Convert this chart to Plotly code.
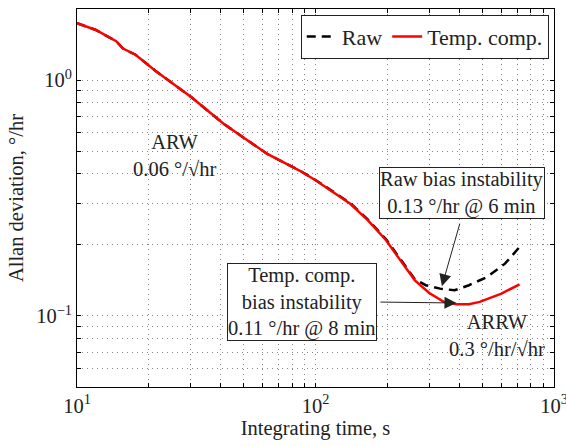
import plotly.graph_objects as go

# ---- data ----
tau_comp = [10, 12.0, 14.6, 15.6, 17.6, 21.3, 30.2, 41.3, 62.8, 85.7, 100.4, 121.6,
            139.8, 166, 198, 227, 261, 300, 345, 390, 440, 488, 602, 717]
adev_comp = [1.74, 1.63, 1.46, 1.36, 1.28, 1.095, 0.845, 0.651, 0.486, 0.4135, 0.375, 0.329,
             0.299, 0.254, 0.209, 0.172, 0.1416, 0.1252, 0.1147, 0.1122, 0.1122, 0.1147, 0.1244, 0.1362]

tau_raw = [10, 12.0, 14.6, 15.6, 17.6, 21.3, 30.2, 41.3, 62.8, 85.7, 100.4, 121.6,
           139.8, 166, 198, 227, 261, 290, 333, 383, 440, 524, 623, 717]
adev_raw = [1.74, 1.63, 1.46, 1.36, 1.28, 1.095, 0.845, 0.651, 0.486, 0.4135, 0.376, 0.331,
            0.301, 0.256, 0.211, 0.174, 0.1430, 0.135, 0.1306, 0.1285, 0.135, 0.1463, 0.1666, 0.196]

x_grid = [10, 20, 30, 40, 50, 60, 70, 80, 90, 100, 200, 300, 400, 500, 600, 700, 800, 900, 1000]
x_labels = {10: "10<sup>1</sup>", 100: "10<sup>2</sup>", 1000: "10<sup>3</sup>"}
y_grid = [0.05, 0.06, 0.07, 0.08, 0.09, 0.1, 0.2, 0.3, 0.4, 0.5, 0.6, 0.7, 0.8, 0.9, 1, 2]
y_labels = {0.1: "10<sup>\u22121</sup>", 1: "10<sup>0</sup>"}

FONT = "Liberation Serif"
FS = 20.5

fig = go.Figure()
fig.add_trace(go.Scatter(x=tau_raw, y=adev_raw, mode="lines", name="Raw",
                         line=dict(color="black", width=2.5, dash="9px,6px")))
fig.add_trace(go.Scatter(x=tau_comp, y=adev_comp, mode="lines", name="Temp. comp.",
                         line=dict(color="#ff0000", width=2.5)))

axis_common = dict(showline=True, linecolor="black", linewidth=1, mirror="allticks",
                   ticks="inside", ticklen=4, tickcolor="black",
                   showgrid=True, gridcolor="#858585", griddash="1px,4px", gridwidth=1,
                   zeroline=False, ticklabeloverflow="allow", automargin=False,
                   tickfont=dict(family=FONT, size=FS, color="#222"))

fig.update_xaxes(type="log", range=[1, 3], tickvals=x_grid,
                 ticktext=[x_labels.get(v, "") for v in x_grid],
                 title=dict(text="Integrating time, s", font=dict(family=FONT, size=FS, color="#222"),
                            standoff=2),
                 **axis_common)
fig.update_yaxes(type="log", range=[-1.30103, 0.30103], tickvals=y_grid,
                 ticktext=[y_labels.get(v, "") for v in y_grid],
                 title=dict(text="Allan deviation, \u00b0/hr", font=dict(family=FONT, size=FS, color="#222"),
                            standoff=6),
                 **axis_common)

tf = dict(family=FONT, size=FS, color="#222")
annotations = [
    dict(xref="paper", yref="paper", x=0.2048, y=0.6134, text="ARW<br>0.06 \u00b0/\u221ahr",
         xanchor="center", yanchor="middle", showarrow=False, font=tf, align="center"),
    dict(xref="paper", yref="paper", x=0.8797, y=0.1356, text="ARRW<br>0.3 \u00b0/hr/\u221ahr",
         xanchor="center", yanchor="middle", showarrow=False, font=tf, align="center"),
    dict(xref="paper", yref="paper", x=0.8065, y=0.5123,
         text="Raw bias instability<br>0.13 \u00b0/hr @ 6 min",
         xanchor="center", yanchor="middle",
         showarrow=False, font=tf, align="center", bordercolor="#222", borderwidth=1,
         bgcolor="white", borderpad=0),
    dict(xref="paper", yref="paper", x=0.4718, y=0.2256,
         text="Temp. comp.<br>bias instability<br>0.11 \u00b0/hr @ 8 min",
         xanchor="center", yanchor="middle",
         showarrow=False, font=tf, align="center", bordercolor="#222", borderwidth=1,
         bgcolor="white", borderpad=0),
    # arrows
    dict(xref="x", yref="y", axref="x", ayref="y", x=2.530, y=-0.874, ax=2.607, ay=-0.602,
         text="", showarrow=True, arrowhead=2, arrowsize=2.4, arrowwidth=1, arrowcolor="#222"),
    dict(xref="x", yref="y", axref="x", ayref="y", x=2.591, y=-0.945, ax=2.266, ay=-0.941,
         text="", showarrow=True, arrowhead=2, arrowsize=2.4, arrowwidth=1, arrowcolor="#222"),
]

fig.update_layout(
    width=566, height=446,
    margin=dict(l=76.5, r=11.5, t=9, b=59.3, autoexpand=False),
    paper_bgcolor="white", plot_bgcolor="white",
    font=dict(family=FONT, size=FS, color="#222"),
    showlegend=True,
    legend=dict(orientation="h", x=0.989, y=0.985, xanchor="right", yanchor="top",
                bordercolor="#222", borderwidth=1, bgcolor="white",
                font=dict(family=FONT, size=22, color="#222"), itemwidth=30,
                tracegroupgap=0),
    annotations=annotations,
)

fig.write_html("out.html")
